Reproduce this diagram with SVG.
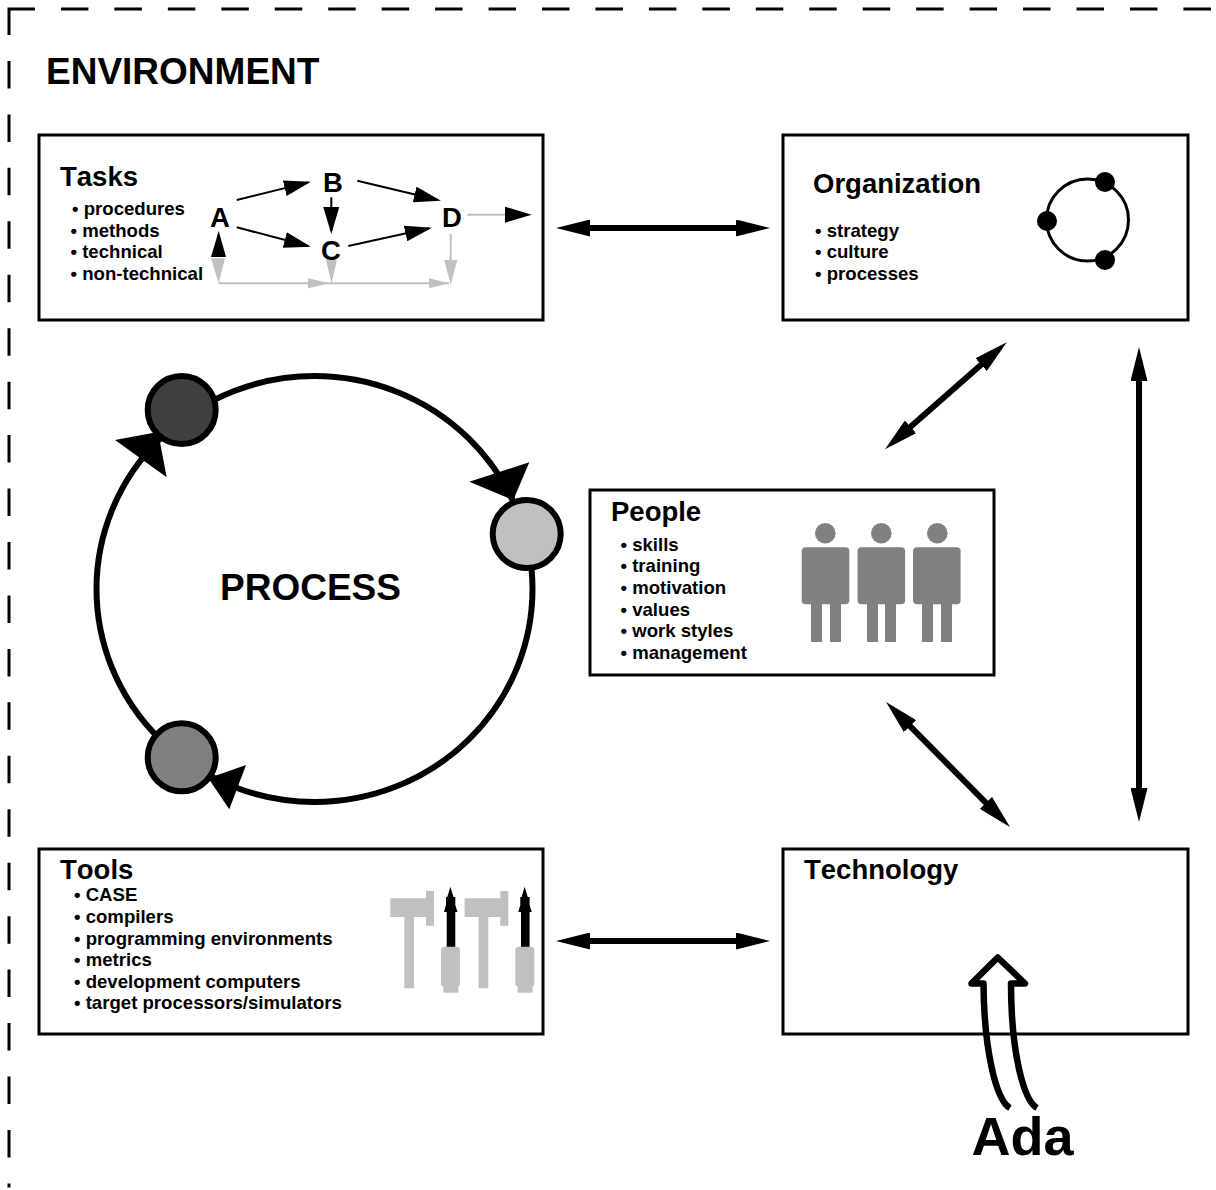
<svg xmlns="http://www.w3.org/2000/svg" width="1216" height="1190" viewBox="0 0 1216 1190">
<style>
text{font-family:"Liberation Sans",Arial,sans-serif;font-weight:bold;fill:#000;font-kerning:none}
.h{font-size:27.5px}
.b{font-size:18.6px}
.box{fill:none;stroke:#000;stroke-width:3}
.k{stroke:#000;fill:none;stroke-width:2}
.g{stroke:#c0c0c0;fill:none;stroke-width:2}
.big{stroke:#000;fill:none;stroke-width:6;marker-start:url(#big);marker-end:url(#big)}
.fg{fill:#c0c0c0}
.fk{fill:#000}
.fm{fill:#808080}
.pc{stroke:#000;stroke-width:6}
</style>
<defs>
<marker id="big" markerUnits="userSpaceOnUse" viewBox="0 0 34 17" refX="20" refY="8.5" markerWidth="34" markerHeight="17" orient="auto-start-reverse"><path d="M0 0L34 8.5L0 17Z" fill="#000"/></marker>
<marker id="sk" markerUnits="userSpaceOnUse" viewBox="0 0 27 16" refX="24" refY="8" markerWidth="27" markerHeight="16" orient="auto"><path d="M0 0L27 8L0 16Z" fill="#000"/></marker>
</defs>
<path id="environment-border" d="M9 9V1186M9 9H1216" fill="none" stroke="#000" stroke-width="3" stroke-linecap="square" stroke-dasharray="24.5 28.95"/>
<g id="environment-label"><text x="46" y="84" font-size="37">ENVIRONMENT</text></g>
<g id="connectors">
<line class="big" x1="570" y1="228" x2="756" y2="228"/>
<line class="big" x1="996.2" y1="351.5" x2="895.5" y2="440.1"/>
<line class="big" x1="1139" y1="361" x2="1139" y2="808"/>
<line class="big" x1="895.9" y1="711.9" x2="1000.1" y2="817.1"/>
<line class="big" x1="570" y1="941" x2="756" y2="941"/>
<ellipse cx="314.5" cy="589" rx="218" ry="213" fill="none" stroke="#000" stroke-width="6"/>
<polygon class="fk" points="115,440 166.7,477.3 158,432"/>
<polygon class="fk" points="529.3,462.3 469.3,481.7 513.3,500"/>
<polygon class="fk" points="246,765 229.3,809.3 208.3,778.3"/>
<path d="M1010 1108C996 1100 984 1050 983.5 983.5H971.5L997.7 957.5L1025 983.5H1011C1011 1050 1023 1100 1037 1108" fill="none" stroke="#000" stroke-width="6.5" stroke-linejoin="round"/>
</g>
<g id="process-label"><text x="220" y="600" font-size="37">PROCESS</text></g>
<g id="process-stage-1"><circle class="pc" cx="181.7" cy="410" r="34" fill="#404040"/></g>
<g id="process-stage-2"><circle class="pc" cx="526.7" cy="534" r="34" fill="#c0c0c0"/></g>
<g id="process-stage-3"><circle class="pc" cx="181.7" cy="757.3" r="34" fill="#808080"/></g>
<g id="tasks">
<rect class="box" x="39" y="135" width="504" height="185"/>
<text class="h" x="60" y="186">Tasks</text>
<text class="b" x="72" y="215">• procedures</text>
<text class="b" x="70.5" y="237">• methods</text>
<text class="b" x="70.5" y="258">• technical</text>
<text class="b" x="70.5" y="280">• non-technical</text>
<text class="h" x="210" y="226.7">A</text>
<text class="h" x="323" y="191.7">B</text>
<text class="h" x="321" y="260">C</text>
<text class="h" x="442" y="226.7">D</text>
<g id="task-flow">
<line class="k" x1="236.7" y1="200" x2="308" y2="182.4" marker-end="url(#sk)"/>
<line class="k" x1="357.3" y1="180.7" x2="438" y2="200" marker-end="url(#sk)"/>
<line class="k" x1="236.7" y1="227.3" x2="308" y2="246" marker-end="url(#sk)"/>
<line class="k" x1="331.3" y1="197.3" x2="331.3" y2="231" marker-end="url(#sk)"/>
<line class="k" x1="348.3" y1="246" x2="429" y2="228.3" marker-end="url(#sk)"/>
<line class="g" x1="467.3" y1="214.7" x2="508" y2="214.7"/>
<polygon class="fk" points="505,206.7 531.7,214.7 505,222.7"/>
<line class="g" x1="450.7" y1="234" x2="450.7" y2="262"/>
<polygon class="fg" points="444.2,260 457.2,260 450.7,285"/>
<line class="g" x1="218.7" y1="283.3" x2="449" y2="283.3"/>
<polygon class="fg" points="308,278.3 330,283.3 308,288.3"/>
<polygon class="fg" points="429,278.3 449.3,283.3 429,288.3"/>
<polygon class="fg" points="211,258.3 225,258.3 218.7,283.3"/>
<polygon class="fk" points="211,257 226,257 218.7,231"/>
<polygon class="fg" points="326,260 337,260 331.5,283.3"/>
</g>
</g>
<g id="organization">
<rect class="box" x="783" y="135" width="405" height="185"/>
<text class="h" x="813" y="193">Organization</text>
<text class="b" x="815" y="237">• strategy</text>
<text class="b" x="815" y="258">• culture</text>
<text class="b" x="815" y="280">• processes</text>
<circle cx="1087.5" cy="220" r="41" fill="none" stroke="#000" stroke-width="3"/>
<circle class="fk" cx="1105" cy="182" r="10"/>
<circle class="fk" cx="1047" cy="221" r="10"/>
<circle class="fk" cx="1105" cy="260" r="10"/>
</g>
<g id="people">
<rect class="box" x="590" y="490" width="404" height="185"/>
<text class="h" x="611" y="521">People</text>
<text class="b" x="620.5" y="551">• skills</text>
<text class="b" x="620.5" y="572">• training</text>
<text class="b" x="620.5" y="594">• motivation</text>
<text class="b" x="620.5" y="616">• values</text>
<text class="b" x="620.5" y="637">• work styles</text>
<text class="b" x="620.5" y="659">• management</text>
<g class="fm">
<circle cx="825.3" cy="533.3" r="10.3"/><rect x="801.7" y="547.3" width="47.6" height="57" rx="4"/><rect x="811" y="604" width="11" height="38"/><rect x="830" y="604" width="11" height="38"/>
<circle cx="881.3" cy="533.3" r="10.3"/><rect x="857.5" y="547.3" width="47.6" height="57" rx="4"/><rect x="867" y="604" width="11" height="38"/><rect x="885" y="604" width="11" height="38"/>
<circle cx="937.3" cy="533.3" r="10.3"/><rect x="913" y="547.3" width="47.6" height="57" rx="4"/><rect x="922" y="604" width="11" height="38"/><rect x="941" y="604" width="11" height="38"/>
</g>
</g>
<g id="tools">
<rect class="box" x="39" y="849" width="504" height="185"/>
<text class="h" x="60" y="879">Tools</text>
<text class="b" x="74" y="901">• CASE</text>
<text class="b" x="74" y="923">• compilers</text>
<text class="b" x="74" y="945">• programming environments</text>
<text class="b" x="74" y="966">• metrics</text>
<text class="b" x="74" y="988">• development computers</text>
<text class="b" x="74" y="1009">• target processors/simulators</text>
<g id="tool-a">
<path class="fg" d="M390.3 898.3H426V891H434V925.7H426V917H414V988.3H404.3V917H390.3Z"/>
<path class="fk" d="M450.3 886.7L453.5 897L455.3 897V905L457.5 912H455.3V947H446.7V912H444L446 905V897L447.3 897Z"/>
<rect class="fg" x="441" y="946.7" width="19" height="40" rx="3.5"/>
<rect class="fg" x="443.3" y="984" width="15" height="8.7"/>
</g>
<g id="tool-b" transform="translate(74.3 0)">
<path class="fg" d="M390.3 898.3H426V891H434V925.7H426V917H414V988.3H404.3V917H390.3Z"/>
<path class="fk" d="M450.3 886.7L453.5 897L455.3 897V905L457.5 912H455.3V947H446.7V912H444L446 905V897L447.3 897Z"/>
<rect class="fg" x="441" y="946.7" width="19" height="40" rx="3.5"/>
<rect class="fg" x="443.3" y="984" width="15" height="8.7"/>
</g>
</g>
<g id="technology">
<rect class="box" x="783" y="849" width="405" height="185"/>
<text class="h" x="804" y="879">Technology</text>
</g>
<g id="ada"><text x="971.5" y="1155" font-size="54">Ada</text></g>
</svg>
